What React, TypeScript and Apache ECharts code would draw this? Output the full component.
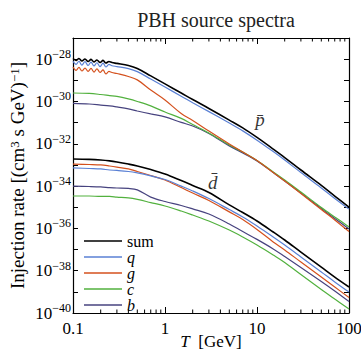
import React, { useEffect, useRef } from 'react';
import * as echarts from 'echarts';

// Temperature grids (GeV)
const tFine = [0.1, 0.108, 0.116, 0.125, 0.135, 0.146, 0.157, 0.169, 0.182, 0.197, 0.212, 0.228, 0.246, 0.265,
  0.3, 0.4, 0.5, 0.7, 1, 1.5, 2, 3, 5, 7, 10, 15, 20, 30, 50, 70, 100];
const tCoarse = [0.1, 0.15, 0.2, 0.25, 0.3, 0.4, 0.5, 0.7, 1, 1.5, 2, 3, 5, 7, 10, 15, 20, 30, 50, 70, 100];

// log10 of injection rate, antiproton (p-bar)
const pbarSum = [-27.97, -28.06, -27.97, -28.09, -27.99, -28.11, -28.01, -28.13, -28.04, -28.16, -28.06, -28.18, -28.11, -28.16,
  -28.20, -28.30, -28.44, -28.79, -29.17, -29.60, -29.91, -30.33, -30.88, -31.25, -31.70, -32.25, -32.65, -33.24, -33.97, -34.47, -34.99];
const pbarQ = [-28.10, -28.25, -28.10, -28.28, -28.12, -28.30, -28.14, -28.32, -28.17, -28.35, -28.19, -28.37, -28.25, -28.31,
  -28.35, -28.45, -28.59, -28.94, -29.32, -29.75, -30.06, -30.48, -31.02, -31.39, -31.83, -32.37, -32.77, -33.36, -34.09, -34.59, -35.09];
const pbarG = [-28.37, -28.53, -28.39, -28.56, -28.42, -28.58, -28.44, -28.61, -28.46, -28.63, -28.51, -28.70, -28.58, -28.63,
  -28.68, -28.82, -28.98, -29.46, -29.93, -30.57, -30.90, -31.40, -32.01, -32.39, -32.79, -33.36, -33.76, -34.35, -35.11, -35.60, -36.15];
const pbarC = [-29.60, -29.62, -29.67, -29.72, -29.76, -29.88, -30.00, -30.21, -30.50, -30.80, -31.09, -31.49, -32.06, -32.39,
  -32.79, -33.33, -33.71, -34.28, -35.01, -35.46, -35.93];
const pbarB = [-30.09, -30.12, -30.17, -30.21, -30.26, -30.35, -30.45, -30.59, -30.73, -30.99, -31.16, -31.51, -32.10, -32.43,
  -32.81, -33.36, -33.76, -34.33, -35.06, -35.53, -36.03];

// log10 of injection rate, antideuteron (d-bar)
const dbarSum = [-32.72, -32.74, -32.77, -32.81, -32.86, -32.96, -33.05, -33.22, -33.43, -33.74, -33.97, -34.30, -34.89, -35.25,
  -35.65, -36.17, -36.55, -37.12, -37.83, -38.30, -38.77];
const dbarQ = [-33.14, -33.17, -33.19, -33.24, -33.26, -33.31, -33.38, -33.52, -33.69, -34.00, -34.23, -34.59, -35.11, -35.46,
  -35.89, -36.41, -36.79, -37.35, -38.06, -38.53, -39.01];
const dbarG = [-32.96, -32.98, -33.00, -33.05, -33.10, -33.19, -33.31, -33.50, -33.71, -34.07, -34.33, -34.68, -35.22, -35.58,
  -36.05, -36.64, -37.02, -37.59, -38.30, -38.77, -39.27];
const dbarC = [-34.47, -34.47, -34.49, -34.49, -34.52, -34.56, -34.63, -34.78, -34.94, -35.18, -35.37, -35.65, -36.08, -36.41,
  -36.79, -37.26, -37.61, -38.18, -38.89, -39.34, -39.81];
const dbarB = [-34.00, -34.02, -34.04, -34.07, -34.09, -34.11, -34.18, -34.52, -34.73, -34.92, -35.08, -35.32, -35.79, -36.15,
  -36.52, -36.97, -37.33, -37.85, -38.51, -38.96, -39.46];

const legendNames = ['sum', 'q', 'g', 'c', 'b'];
const xTickLabels: Record<string, string> = { '-1': '0.1', '0': '1', '1': '10', '2': '100' };
const minorTicksT = [0.2, 0.3, 0.4, 0.5, 0.6, 0.7, 0.8, 0.9, 2, 3, 4, 5, 6, 7, 8, 9, 20, 30, 40, 50, 60, 70, 80, 90];
const curveLabels = [
  { text: 'p\u0304', t: 10.8, v: -30.85 },
  { text: 'd\u0304', t: 3.3, v: -33.81 },
];

const X_MIN = -1, X_MAX = 2, Y_MIN = -40, Y_MAX = -27;
const F = '"Liberation Serif", "Times New Roman", serif';
const COLORS: Record<string, string> = {
  sum: '#000000', q: '#5a80d4', g: '#d4511e', c: '#52b13e', b: '#47437f',
};

function mk(name: string, ts: number[], vals: number[]) {
  return {
    type: 'line', name, color: COLORS[name],
    data: ts.map((t, i) => [Math.log10(t), vals[i]]),
    symbol: 'none', showSymbol: false, smooth: 0.35,
    lineStyle: { width: name === 'sum' ? 1.6 : 1.2, color: COLORS[name] },
    z: name === 'sum' ? 5 : 3,
  };
}

export default function App() {
  const ref = useRef<HTMLDivElement>(null);
  useEffect(() => {
    document.body.style.margin = '0';
    const chart = echarts.init(ref.current!, null, { renderer: 'svg' });
    const axisCommon = {
      type: 'value', min: X_MIN, max: X_MAX, interval: 1,
      splitLine: { show: false },
      axisLine: { onZero: false, lineStyle: { color: '#000', width: 1.2 } },
      axisTick: { inside: true, length: 6, lineStyle: { color: '#000', width: 1 } },
    };
    const yCommon = {
      type: 'value', min: Y_MIN, max: Y_MAX, interval: 1,
      splitLine: { show: false },
      axisLine: { onZero: false, lineStyle: { color: '#000', width: 1.2 } },
      axisTick: { inside: true, length: 5, lineStyle: { color: '#000', width: 1 } },
    };
    const option: any = {
      animation: false,
      backgroundColor: '#fff',
      title: {
        text: 'PBH source spectra', left: 211, top: 5, textAlign: 'center',
        textStyle: { fontFamily: F, fontSize: 20, fontWeight: 'normal', color: '#222' },
      },
      grid: { left: 73, right: 12, top: 38, bottom: 42, containLabel: false, outerBoundsMode: 'none' },
      legend: {
        data: legendNames, orient: 'vertical', left: 84, top: 233, padding: 0,
        icon: 'rect', itemWidth: 38, itemHeight: 1.6, itemGap: 0, selectedMode: false,
        formatter: (n: string) => (n === 'sum' ? n : `{i|${n}}`),
        textStyle: {
          fontFamily: F, fontSize: 16, lineHeight: 15, color: '#000',
          rich: { i: { fontFamily: F, fontSize: 16, lineHeight: 15, fontStyle: 'italic', color: '#000' } },
        },
      },
      xAxis: [
        {
          ...axisCommon, position: 'bottom',
          name: '{i|T}  [GeV]', nameLocation: 'middle', nameGap: 20, nameMoveOverlap: false,
          nameTextStyle: {
            fontFamily: F, fontSize: 17, color: '#000',
            rich: { i: { fontFamily: F, fontSize: 17, fontStyle: 'italic', color: '#000' } },
          },
          axisLabel: {
            margin: 7, fontFamily: F, fontSize: 17, color: '#000',
            formatter: (v: number) => xTickLabels[String(Math.round(v))] ?? '',
          },
        },
        { ...axisCommon, position: 'top', axisLabel: { show: false } },
      ],
      yAxis: [
        {
          ...yCommon, position: 'left',
          name: 'Injection rate [(cm{s|3} s GeV){s|\u22121}]', nameLocation: 'middle', nameRotate: 90, nameGap: 46,
          nameMoveOverlap: false,
          nameTextStyle: {
            fontFamily: F, fontSize: 19, color: '#000',
            rich: { s: { fontFamily: F, fontSize: 13, verticalAlign: 'top', color: '#000' } },
          },
          axisLabel: {
            margin: 2,
            formatter: (v: number) => {
              const n = Math.round(v);
              return n % 2 === 0 ? `{b|10}{s|\u2212${-n}}` : '';
            },
            rich: {
              b: { fontFamily: F, fontSize: 17, lineHeight: 22, color: '#000' },
              s: { fontFamily: F, fontSize: 12, verticalAlign: 'top', color: '#000' },
            },
          },
        },
        { ...yCommon, position: 'right', axisLabel: { show: false } },
      ],
      series: [
        mk('b', tCoarse, pbarB),
        mk('c', tCoarse, pbarC),
        mk('g', tFine, pbarG),
        mk('q', tFine, pbarQ),
        mk('sum', tFine, pbarSum),
        mk('b', tCoarse, dbarB),
        mk('c', tCoarse, dbarC),
        mk('g', tCoarse, dbarG),
        mk('q', tCoarse, dbarQ),
        mk('sum', tCoarse, dbarSum),
        {
          type: 'custom', name: 'minorTicks', silent: true, clip: false, z: 10,
          data: minorTicksT.map((t) => [Math.log10(t), Y_MIN]),
          renderItem: (params: any, api: any) => {
            const x = api.value(0);
            const b = api.coord([x, Y_MIN]);
            const t = api.coord([x, Y_MAX]);
            const st = { stroke: '#000', lineWidth: 1 };
            return {
              type: 'group',
              children: [
                { type: 'line', shape: { x1: b[0], y1: b[1], x2: b[0], y2: b[1] - 3.5 }, style: st },
                { type: 'line', shape: { x1: t[0], y1: t[1], x2: t[0], y2: t[1] + 3.5 }, style: st },
              ],
            };
          },
        },
        {
          type: 'scatter', name: 'labels', silent: true, symbolSize: 1,
          itemStyle: { color: 'rgba(0,0,0,0)' },
          data: curveLabels.map((l) => ({ value: [Math.log10(l.t), l.v], text: l.text })),
          label: {
            show: true, position: 'inside', fontFamily: F, fontSize: 19, fontStyle: 'italic', color: '#000',
            formatter: (p: any) => p.data.text,
          },
        },
      ],
    };
    chart.setOption(option);
    return () => chart.dispose();
  }, []);
  return <div ref={ref} style={{ width: 361, height: 355 }} />;
}
